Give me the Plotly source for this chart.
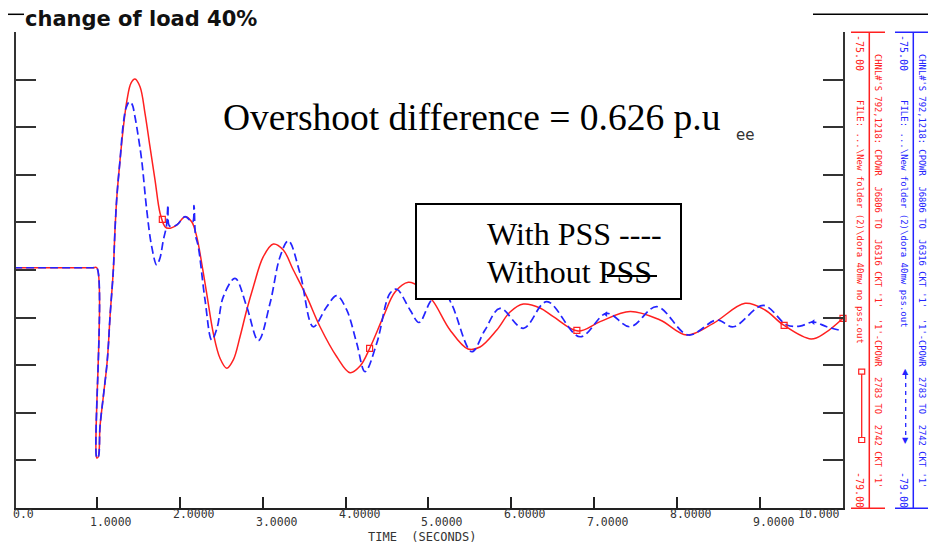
import plotly.graph_objects as go
import numpy as np

# ---------------- data ----------------
time_without_pss = [0.0, 0.95, 0.999, 1.0, 1.018, 1.038, 1.078, 1.119, 1.138, 1.159, 1.199, 1.219,
                    1.243, 1.280, 1.319, 1.364, 1.412, 1.460, 1.521, 1.581, 1.641, 1.702, 1.762,
                    1.822, 1.862, 1.963, 2.064, 2.144, 2.205, 2.265, 2.325, 2.405, 2.486, 2.567,
                    2.646, 2.727, 2.808, 2.888, 3.008, 3.129, 3.249, 3.370, 3.532, 3.692, 3.894,
                    4.054, 4.175, 4.295, 4.456, 4.597, 4.757, 4.898, 5.059, 5.260, 5.477, 5.622,
                    5.824, 5.984, 6.144, 6.346, 6.506, 6.804, 7.070, 7.432, 7.793, 8.115, 8.436,
                    8.819, 9.060, 9.281, 9.615, 9.784, 10.0]
power_without_pss = [-76.981, -76.981, -76.981, -78.580, -78.569, -78.317, -78.065, -77.813, -77.645,
                     -77.392, -77.000, -76.664, -76.370, -76.076, -75.807, -75.571, -75.429, -75.395,
                     -75.460, -75.683, -75.964, -76.244, -76.521, -76.636, -76.650, -76.622, -76.552,
                     -76.594, -76.720, -76.944, -77.196, -77.532, -77.742, -77.826, -77.756, -77.561,
                     -77.336, -77.140, -76.888, -76.782, -76.832, -77.000, -77.224, -77.477, -77.729,
                     -77.863, -77.807, -77.653, -77.392, -77.185, -77.103, -77.143, -77.266, -77.504,
                     -77.664, -77.647, -77.504, -77.353, -77.286, -77.319, -77.392, -77.513, -77.434,
                     -77.349, -77.420, -77.546, -77.448, -77.280, -77.336, -77.462, -77.580, -77.529,
                     -77.406]

time_with_pss = [0.0, 0.95, 0.999, 1.0, 1.018, 1.038, 1.078, 1.119, 1.138, 1.159, 1.199, 1.219,
                 1.243, 1.280, 1.319, 1.352, 1.392, 1.424, 1.460, 1.497, 1.541, 1.602, 1.662,
                 1.722, 1.762, 1.802, 1.840, 1.859, 1.877, 1.963, 2.064, 2.154, 2.172, 2.190,
                 2.224, 2.305, 2.386, 2.450, 2.526, 2.667, 2.808, 2.948, 3.089, 3.210, 3.310,
                 3.451, 3.611, 3.773, 3.894, 4.014, 4.135, 4.235, 4.376, 4.536, 4.617, 4.778,
                 4.886, 5.019, 5.152, 5.284, 5.522, 5.682, 5.863, 6.144, 6.427, 6.828, 7.150,
                 7.432, 7.754, 8.135, 8.477, 8.678, 9.040, 9.322, 9.482, 9.643, 9.804, 10.0]
power_with_pss = [-76.981, -76.981, -76.981, -78.580, -78.569, -78.317, -78.065, -77.813, -77.645,
                  -77.392, -77.000, -76.664, -76.370, -76.076, -75.773, -75.639, -75.586, -75.605,
                  -75.712, -75.866, -76.076, -76.496, -76.804, -76.958, -76.899, -76.748, -76.630,
                  -76.454, -76.630, -76.622, -76.552, -76.597, -76.458, -76.706, -76.804, -77.252,
                  -77.588, -77.487, -77.224, -77.070, -77.308, -77.594, -77.280, -76.888, -76.754,
                  -77.028, -77.477, -77.308, -77.216, -77.336, -77.616, -77.855, -77.616, -77.196,
                  -77.162, -77.336, -77.441, -77.269, -77.143, -77.294, -77.687, -77.504, -77.322,
                  -77.490, -77.266, -77.561, -77.364, -77.477, -77.308, -77.546, -77.420, -77.477,
                  -77.298, -77.462, -77.471, -77.437, -77.477, -77.513]

square_marker_times = [0.0, 1.79, 4.29, 6.79, 9.29, 10.0]
triangle_marker_times = [7.14, 9.64]

x_tick_values = [0, 1, 2, 3, 4, 5, 6, 7, 8, 9, 10]
x_tick_labels = ["0.0", "1.0000", "2.0000", "3.0000", "4.0000", "5.0000",
                 "6.0000", "7.0000", "8.0000", "9.0000", "10.000"]
y_tick_values = [-79.0, -78.6, -78.2, -77.8, -77.4, -77.0, -76.6, -76.2, -75.8, -75.4, -75.0]
x_range = [0.025, 10.0]
y_range = [-79.0, -75.0]

title_text = "change of load 40%"
overshoot_text = "Overshoot difference = 0.626 p.u"
legend_line1 = "With PSS ----"
legend_line2 = "Without PSS"
x_title = "TIME\u00a0\u00a0(SECONDS)"
chnl_text = ("CHNL#'S 792,1218: CPOWR\u00a0\u00a0J6806 TO\u00a0\u00a0J6316 CKT '1'\u00a0\u00a0"
             "'1'-CPOWR\u00a0\u00a02783 TO\u00a0\u00a02742 CKT '1'")
file_red = "FILE: ...\\New folder (2)\\dora 40mw no pss.out"
file_blue = "FILE: ...\\New folder (2)\\dora 40mw pss.out"
top_value = "-75.00"
bottom_value = "-79.00"

RED = "#ff2020"
BLUE = "#2424ff"

# ---------------- layout geometry (page pixels; the page body has an 8px margin) ----------------
BODY = 8
PAGE_W, PAGE_H = 936, 545
PLOT_L, PLOT_R, PLOT_T, PLOT_B = 16, 843, 32, 508     # plot area in page pixels
W, H = PAGE_W - BODY, PAGE_H - BODY
ML, MT = PLOT_L - BODY, PLOT_T - BODY
MR, MB = W - (PLOT_R - BODY), H - (PLOT_B - BODY)
PW, PH = PLOT_R - PLOT_L, PLOT_B - PLOT_T


def px(x):
    return (x - PLOT_L) / PW


def py(y):
    return 1 - (y - PLOT_T) / PH


def xfrac(v):
    return (v - x_range[0]) / (x_range[1] - x_range[0])


fig = go.Figure()

fig.add_trace(go.Scatter(x=time_without_pss, y=power_without_pss, mode="lines",
                         line=dict(color=RED, width=1.5, shape="spline", smoothing=1.0),
                         hoverinfo="skip"))
fig.add_trace(go.Scatter(x=time_with_pss, y=power_with_pss, mode="lines",
                         line=dict(color=BLUE, width=1.7, dash="8px,4px", shape="spline", smoothing=1.0),
                         hoverinfo="skip"))
fig.add_trace(go.Scatter(x=square_marker_times,
                         y=np.interp(square_marker_times, time_without_pss, power_without_pss),
                         mode="markers", cliponaxis=False,
                         marker=dict(symbol="square-open", size=6, color=RED, line=dict(width=1.2, color=RED)),
                         hoverinfo="skip"))
fig.add_trace(go.Scatter(x=triangle_marker_times,
                         y=np.interp(triangle_marker_times, time_with_pss, power_with_pss),
                         mode="markers", cliponaxis=False,
                         marker=dict(symbol="triangle-left", size=5, color=BLUE),
                         hoverinfo="skip"))

shapes = []
# legend box (opaque, above curves)
shapes.append(dict(type="rect", xref="paper", yref="paper", x0=px(416), x1=px(681), y0=py(299), y1=py(204),
                   line=dict(color="black", width=2), fillcolor="white", layer="above"))
# strike-through line on "PSS"
shapes.append(dict(type="line", xref="paper", yref="paper", x0=px(607), x1=px(657), y0=py(276), y1=py(276),
                   line=dict(color="black", width=2), layer="above"))
# top rules
for x0, x1 in [(8, 24), (813, 936)]:
    shapes.append(dict(type="line", xref="paper", yref="paper", x0=px(x0), x1=px(x1), y0=py(14.3), y1=py(14.3),
                       line=dict(color="black", width=1.5)))
# right-hand channel scales
for col, xl, c0, c1 in [(RED, 869.3, 851, 885), (BLUE, 913.3, 895, 930)]:
    shapes.append(dict(type="line", xref="paper", yref="paper", x0=px(xl), x1=px(xl), y0=py(32.3), y1=py(508.3),
                       line=dict(color=col, width=1.5)))
    for yy in (32.3, 508.3):
        shapes.append(dict(type="line", xref="paper", yref="paper", x0=px(c0), x1=px(c1), y0=py(yy), y1=py(yy),
                           line=dict(color=col, width=1.5)))
# red legend symbol
shapes.append(dict(type="line", xref="paper", yref="paper", x0=px(861.7), x1=px(861.7), y0=py(371.7), y1=py(440),
                   line=dict(color=RED, width=1.3)))
for yy in (371.7, 440):
    shapes.append(dict(type="rect", xref="paper", yref="paper", x0=px(858.7), x1=px(864.7), y0=py(yy + 2.5),
                       y1=py(yy - 2.5), line=dict(color=RED, width=1.2), fillcolor="white"))
# blue legend symbol
shapes.append(dict(type="line", xref="paper", yref="paper", x0=px(905.7), x1=px(905.7), y0=py(375), y1=py(437),
                   line=dict(color=BLUE, width=1.3, dash="4px,4px")))

annotations = []
# x tick labels in two staggered rows
for i, (v, lab) in enumerate(zip(x_tick_values, x_tick_labels)):
    row_y = py(513.5) if i % 2 == 0 else py(521.5)
    if i == 0:
        xa, xs = "left", -3
    elif i == len(x_tick_values) - 1:
        xa, xs = "right", -1
    else:
        xa, xs = "left", -9
    annotations.append(dict(x=xfrac(v), y=row_y, xref="paper", yref="paper", text=lab, showarrow=False,
                            xanchor=xa, yanchor="middle", xshift=xs,
                            font=dict(family="DejaVu Sans Mono", size=11.5, color="#333")))
annotations.append(dict(x=px(422), y=py(536.5), xref="paper", yref="paper", text=x_title, showarrow=False,
                        xanchor="center", yanchor="middle",
                        font=dict(family="DejaVu Sans Mono", size=12, color="#333")))
annotations.append(dict(x=px(23), y=py(19), xref="paper", yref="paper", text="<b>" + title_text + "</b>",
                        showarrow=False, xanchor="left", yanchor="middle",
                        font=dict(family="DejaVu Sans", size=21, color="#111")))
annotations.append(dict(x=px(221), y=py(117), xref="paper", yref="paper", text=overshoot_text,
                        showarrow=False, xanchor="left", yanchor="middle",
                        font=dict(family="Liberation Serif", size=37.5, color="black")))
annotations.append(dict(x=px(745), y=py(135), xref="paper", yref="paper", text="ee",
                        showarrow=False, xanchor="center", yanchor="middle",
                        font=dict(family="DejaVu Sans", size=15, color="#333")))
annotations.append(dict(x=px(485), y=py(234), xref="paper", yref="paper", text=legend_line1,
                        showarrow=False, xanchor="left", yanchor="middle",
                        font=dict(family="Liberation Serif", size=32, color="black")))
annotations.append(dict(x=px(485), y=py(272), xref="paper", yref="paper", text=legend_line2,
                        showarrow=False, xanchor="left", yanchor="middle",
                        font=dict(family="Liberation Serif", size=32, color="black")))
# rotated channel descriptions
for col, xleft, xright in [(RED, 860, 878), (BLUE, 904, 922)]:
    fname = file_red if col == RED else file_blue
    for txt, xx, ytop, size in [(top_value, xleft, 33, 10), (fname, xleft, 98, 9),
                                (chnl_text, xright, 52, 8.8), (bottom_value, xleft, 470, 10)]:
        annotations.append(dict(x=px(xx), y=py(ytop), xref="paper", yref="paper", text=txt, textangle=90,
                                showarrow=False, xanchor="center", yanchor="top",
                                font=dict(family="DejaVu Sans Mono", size=size, color=col)))
# blue legend arrows
for yy, sym in [(371.7, "\u25b2"), (440, "\u25bc")]:
    annotations.append(dict(x=px(905.7), y=py(yy), xref="paper", yref="paper", text=sym, showarrow=False,
                            xanchor="center", yanchor="middle",
                            font=dict(family="DejaVu Sans", size=8, color=BLUE)))

fig.update_layout(
    width=W, height=H,
    margin=dict(l=ML, r=MR, t=MT, b=MB, pad=0),
    paper_bgcolor="white", plot_bgcolor="white",
    showlegend=False,
    shapes=shapes,
    annotations=annotations,
    xaxis=dict(range=x_range, tickmode="array", tickvals=x_tick_values, showticklabels=False,
               ticks="inside", ticklen=11, tickwidth=1.5, tickcolor="#222",
               showline=True, linecolor="#222", linewidth=2, showgrid=False, zeroline=False, mirror=False),
    yaxis=dict(range=y_range, tickmode="array", tickvals=y_tick_values, showticklabels=False,
               ticks="inside", ticklen=20, tickwidth=1.5, tickcolor="#333",
               showline=True, linecolor="#333", linewidth=2, showgrid=False, zeroline=False, mirror="ticks"),
)

fig.write_html("out.html")
